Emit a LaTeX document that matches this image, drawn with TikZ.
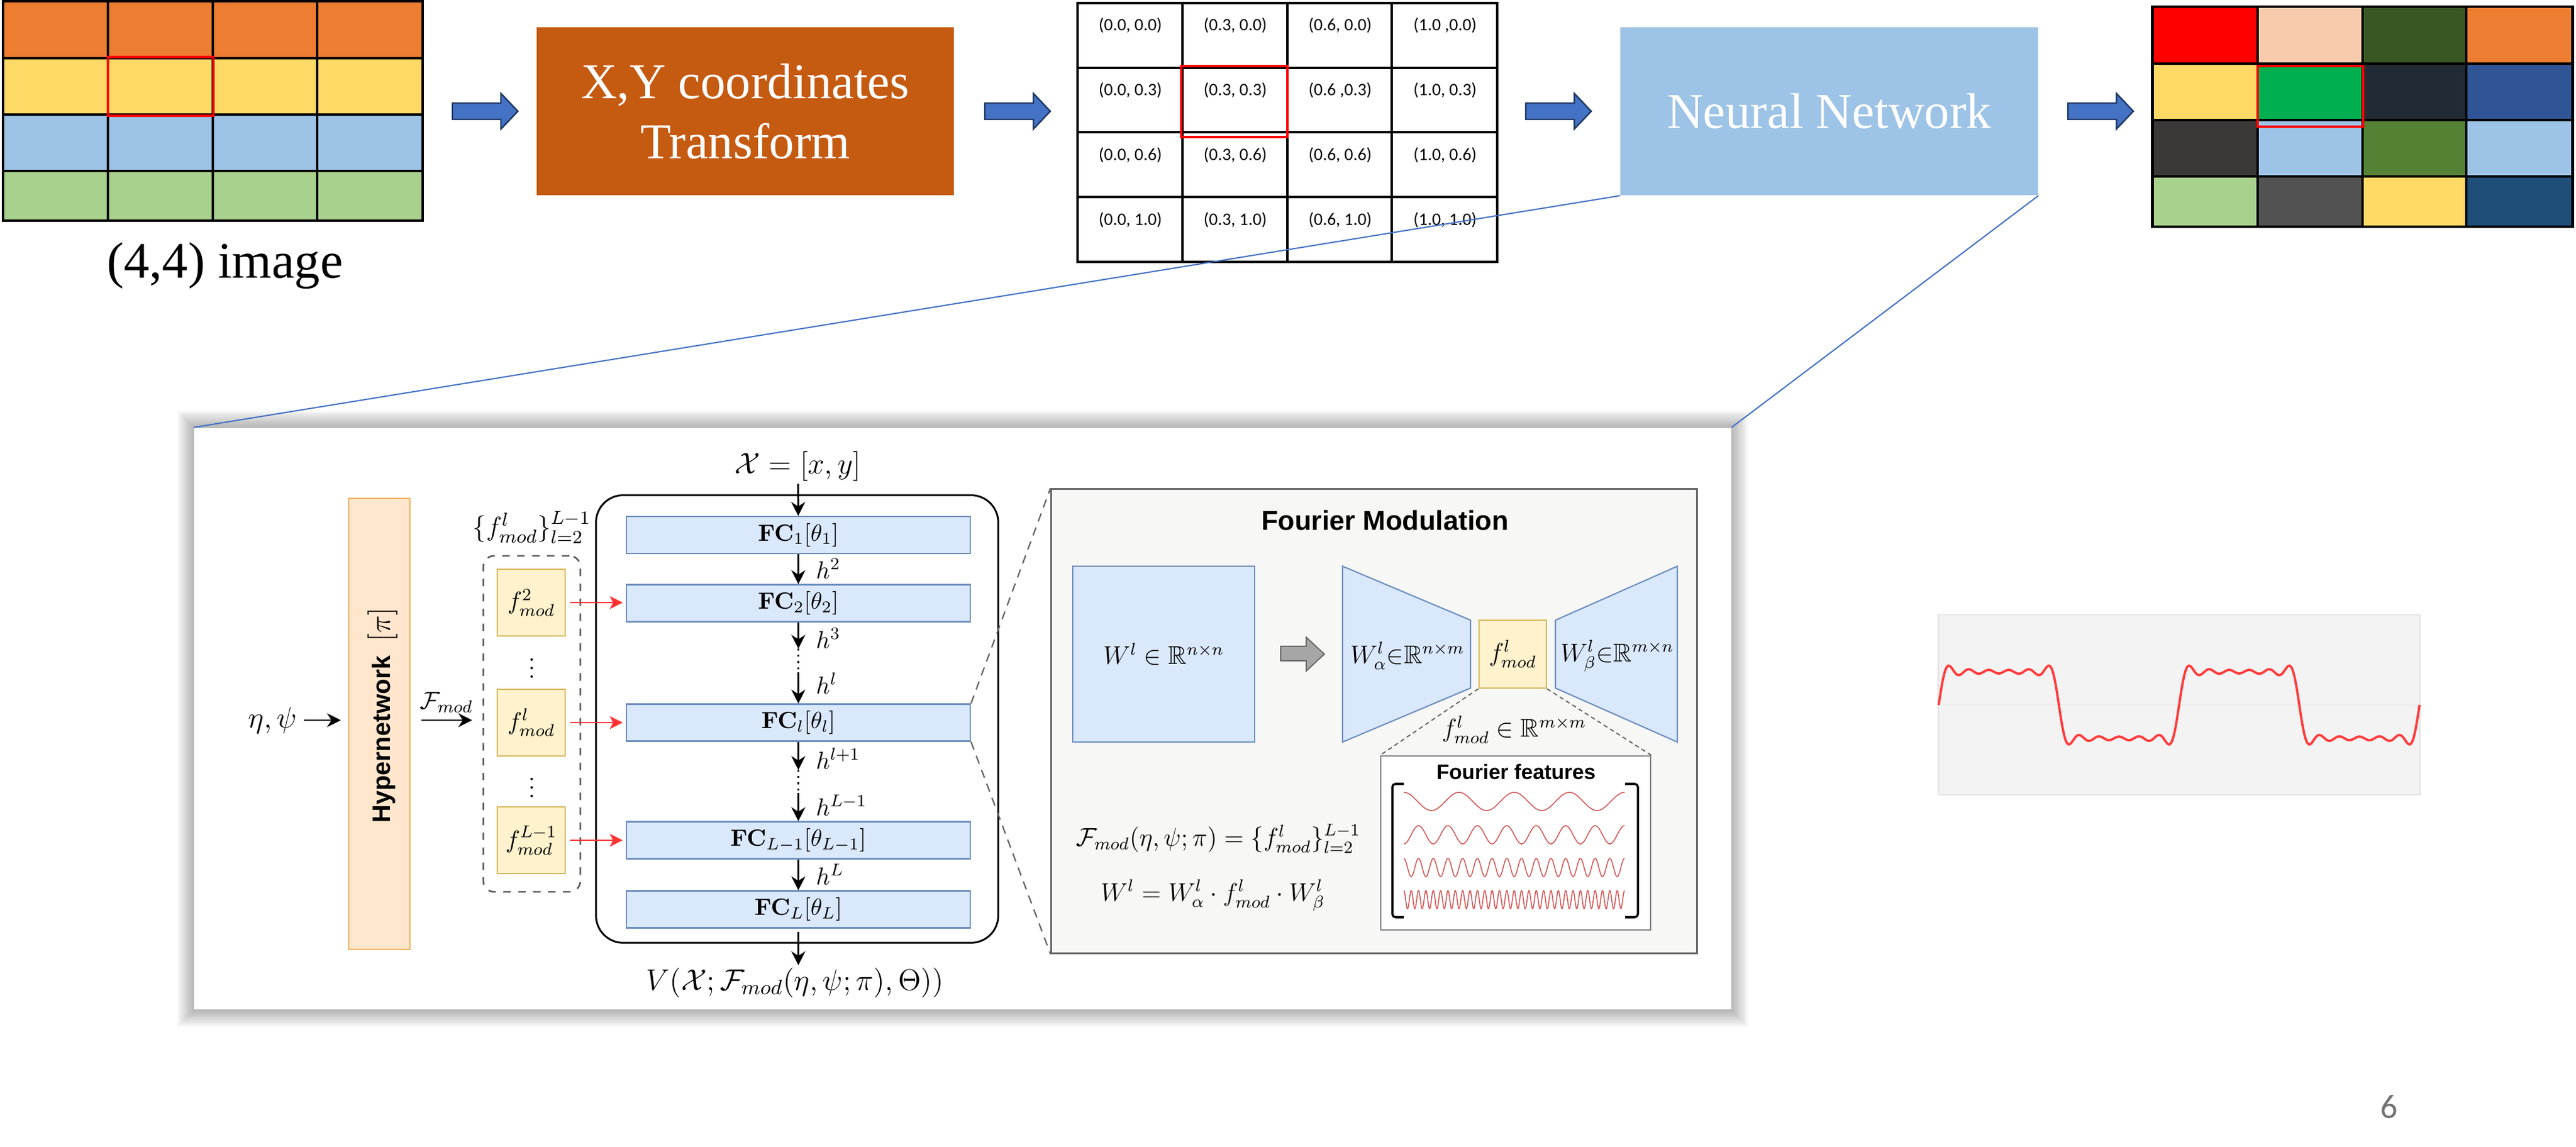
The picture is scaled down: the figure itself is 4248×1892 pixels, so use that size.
\RequirePackage{fix-cm}
\documentclass[tikz,border=0pt]{standalone}
\usepackage[no-math]{fontspec}
\usepackage{amsmath,amssymb}
\usepackage{xcolor}
\usetikzlibrary{calc, arrows.meta, positioning}

\newfontfamily\serifslide{Liberation Serif}
\newfontfamily\sansslide{Liberation Sans}
\newfontfamily\calibrislide{Carlito}
\newcommand\slidesize[1]{\fontsize{#1}{#1}\selectfont}

\definecolor{cellorange}{HTML}{ED7D31}
\definecolor{cellyellow}{HTML}{FFD966}
\definecolor{cellblue}{HTML}{9DC3E6}
\definecolor{cellgreen}{HTML}{A9D18E}
\definecolor{transformbox}{HTML}{C55A11}
\definecolor{netbox}{HTML}{9DC3E6}
\definecolor{arrowfill}{HTML}{4472C4}
\definecolor{arrowline}{HTML}{1F3864}
\definecolor{fcfill}{HTML}{DAE8FC}
\definecolor{fcline}{HTML}{6C8EBF}
\definecolor{modfill}{HTML}{FFF2CC}
\definecolor{modline}{HTML}{D6B656}
\definecolor{hyperfill}{HTML}{FFE6CC}
\definecolor{hyperline}{HTML}{F0B25A}
\definecolor{panelgrey}{HTML}{F7F7F5}
\definecolor{waveback}{HTML}{F3F3F3}
\definecolor{featurered}{HTML}{D45555}
\definecolor{squarered}{HTML}{FF3B3B}
\definecolor{modarrow}{HTML}{FF3333}

\newcommand\stagearrow[1]{\draw[arrowshape] (#1,170) -- ++(80,0) -- ++(0,-16) -- ++(28,29.5) -- ++(-28,29.5) -- ++(0,-16) -- ++(-80,0) -- cycle;}

\begin{document}
\begin{tikzpicture}[x=0.01cm, y=-0.01cm,
    gridline/.style={black, line width=0.9pt},
    gridframe/.style={black, line width=1.2pt},
    pickbox/.style={red, line width=1.3pt},
    coordtext/.style={font=\calibrislide\slidesize{8.2}, inner sep=0pt},
    stagebox/.style={minimum width=6.88cm, minimum height=2.77cm, inner sep=0pt, text=white, align=center, font=\serifslide\fontsize{23.5}{28.2}\selectfont},
    arrowshape/.style={fill=arrowfill, draw=arrowline, line width=0.7pt},
    fcbox/.style={draw=fcline, fill=fcfill, line width=0.6pt, minimum width=5.67cm, minimum height=0.61cm, inner sep=0pt, font=\slidesize{11}},
    fcshape/.style={draw=fcline, fill=fcfill, line width=0.6pt},
    modbox/.style={draw=modline, fill=modfill, line width=0.7pt, minimum width=1.12cm, minimum height=1.1cm, inner sep=0pt, font=\slidesize{11.5}},
    mathlabel/.style={inner sep=1pt, font=\slidesize{14}},
    hlabel/.style={anchor=west, inner sep=0pt, font=\slidesize{11.5}},
    flow/.style={-{Stealth[length=6.5pt, width=6.5pt]}, line width=0.85pt},
    modflow/.style={-{Stealth[length=6pt, width=6pt, inset=1.5pt]}, modarrow, line width=0.8pt},
    zoomline/.style={arrowfill, line width=0.6pt},
    zoomdash/.style={black!60, line width=0.65pt, dash pattern=on 4pt off 3pt},
    featuredash/.style={black!65, line width=0.5pt, dash pattern=on 2pt off 1.5pt}]

    \useasboundingbox (0,0) rectangle (4248,1892);

    \foreach \c/\ya/\yb in {cellorange/2/96, cellyellow/96/189, cellblue/189/282, cellgreen/282/364}
        \fill[\c] (5,\ya) rectangle (697,\yb);
    \foreach \y in {96,189,282} \draw[gridline] (5,\y) -- (697,\y);
    \foreach \x in {178,351,523} \draw[gridline] (\x,2) -- (\x,364);
    \draw[gridframe] (5,2) rectangle (697,364);
    \draw[pickbox] (178,94) rectangle (352,191);
    \node[font=\serifslide\slidesize{24}] (inimg) at (371,438) {(4,4) image};

    \stagearrow{746}
    \node[stagebox, fill=transformbox] (xform) at (1229,183.5) {X,Y coordinates\\Transform};
    \stagearrow{1624}

    \foreach \y in {112,218,325} \draw[gridline] (1777,\y) -- (2469,\y);
    \foreach \x in {1950,2123,2295} \draw[gridline] (\x,5) -- (\x,432);
    \draw[gridframe] (1777,5) rectangle (2469,432);
    \foreach \lab [count=\k from 0] in {{(0.0, 0.0)},{(0.3, 0.0)},{(0.6, 0.0)},{(1.0 ,0.0)},
        {(0.0, 0.3)},{(0.3, 0.3)},{(0.6 ,0.3)},{(1.0, 0.3)},
        {(0.0, 0.6)},{(0.3, 0.6)},{(0.6, 0.6)},{(1.0, 0.6)},
        {(0.0, 1.0)},{(0.3, 1.0)},{(0.6, 1.0)},{(1.0, 1.0)}}
        \node[coordtext] (xy\k) at ({1864+173*mod(\k,4)}, {42+107*int(\k/4)}) {\lab};
    \draw[pickbox] (1948,109) rectangle (2123,226);

    \stagearrow{2516}
    \node[stagebox, fill=netbox] (nnet) at (3016.5,183.5) {Neural Network};
    \stagearrow{3410}

    \def\outx{{3549,3723,3896,4067,4242}}
    \def\outy{{11,105,198,291,374}}
    \foreach \cc [count=\k from 0] in {FF0000,F8CBAD,385723,ED7D31,FFD966,00B050,222A35,2F5597,3B3838,9DC3E6,548235,9DC3E6,A9D18E,525252,FFD966,1F4E79} {
        \pgfmathtruncatemacro\col{mod(\k,4)}
        \pgfmathtruncatemacro\row{int(\k/4)}
        \pgfmathsetmacro\xa{\outx[\col]}
        \pgfmathsetmacro\xb{\outx[\col+1]}
        \pgfmathsetmacro\ya{\outy[\row]}
        \pgfmathsetmacro\yb{\outy[\row+1]}
        \definecolor{cellnow}{HTML}{\cc}
        \fill[cellnow] (\xa,\ya) rectangle (\xb,\yb);
    }
    \foreach \y in {105,198,291} \draw[gridline, line width=1.3pt] (3549,\y) -- (4242,\y);
    \foreach \x in {3723,3896,4067} \draw[gridline, line width=1.1pt] (\x,11) -- (\x,374);
    \draw[gridframe, line width=1.4pt] (3549,11) rectangle (4242,374);
    \draw[pickbox] (3723,109) rectangle (3897,209);

    \foreach \g in {1,...,12}
        \fill[black, opacity=0.028] ({321-2.4*\g},{706-2.4*\g}) rectangle ({2854+2.4*\g},{1665+2.4*\g});
    \node[fill=white, minimum width=25.33cm, minimum height=9.59cm] (panel) at (1587.5,1185.5) {};

    \node[draw=hyperline, fill=hyperfill, line width=0.5pt, minimum width=1.01cm, minimum height=7.44cm] (hyper) at (625.5,1194) {};
    \node[rotate=90, font=\sansslide\bfseries\slidesize{11.8}] (hypertext) at (631,1180) {Hypernetwork\hspace{0.55em}{\slidesize{14}$[\pi]$}};

    \node[mathlabel] (etapsi) at (450,1188) {$\eta,\psi$};
    \draw[flow, shorten <=0.07cm, shorten >=0.12cm] (etapsi.east) -- (etapsi.east -| hyper.west);

    \node[draw=black!65, line width=0.75pt, dash pattern=on 3.5pt off 3.5pt, rounded corners=0.18cm, minimum width=1.6cm, minimum height=5.54cm] (modgroup) at (877,1194) {};
    \draw[flow, shorten <=0.18cm, shorten >=0.17cm] (hyper.east |- etapsi.east) -- (modgroup.west |- etapsi.east)
        node[midway, above, inner sep=3pt, font=\slidesize{11.5}] (fmodlabel) {$\mathcal{F}_{mod}$};
    \node[mathlabel, font=\slidesize{12.5}] (modset) at (877,870) {$\{f^l_{mod}\}^{L-1}_{l=2}$};
    \node[modbox] (mod2) at (876,994) {$f^2_{mod}$};
    \node[modbox] (modl) at (876,1192) {$f^l_{mod}$};
    \node[modbox] (modL) at (876,1386) {$f^{L-1}_{mod}$};
    \node[font=\slidesize{12}] (vdots1) at (877,1092) {$\vdots$};
    \node[font=\slidesize{12}] (vdots2) at (877,1289) {$\vdots$};

    \node[draw, line width=0.85pt, rounded corners=0.45cm, minimum width=6.63cm, minimum height=7.38cm] (mlp) at (1314.5,1186) {};
    \node[fcbox] (fc1) at (1316.5,882.5) {$\mathbf{FC}_1[\theta_1]$};
    \node[fcbox] (fc2) at (1316.5,995) {$\mathbf{FC}_2[\theta_2]$};
    \node[fcbox] (fcl) at (1316.5,1192) {$\mathbf{FC}_l[\theta_l]$};
    \node[fcbox] (fcm) at (1316.5,1386) {$\mathbf{FC}_{L-1}[\theta_{L-1}]$};
    \node[fcbox] (fcL) at (1316.5,1500) {$\mathbf{FC}_L[\theta_L]$};

    \node[mathlabel] (xin) at (1316,769) {$\mathcal{X} = [x, y]$};
    \node[mathlabel] (vout) at (1311,1621) {$V(\mathcal{X};\mathcal{F}_{mod}(\eta,\psi;\pi),\Theta))$};
    \coordinate (gap1a) at (1316.5,1070);
    \coordinate (gap1b) at (1316.5,1109);
    \coordinate (gap2a) at (1316.5,1270);
    \coordinate (gap2b) at (1316.5,1308);

    \draw[flow] (xin) -- (fc1);
    \draw[flow] (fc1) -- (fc2);
    \draw[flow] (fc2) -- (gap1a);
    \draw[dotted, line width=0.9pt] (gap1a) -- (gap1b);
    \draw[flow] (gap1b) -- (fcl);
    \draw[flow] (fcl) -- (gap2a);
    \draw[dotted, line width=0.9pt] (gap2a) -- (gap2b);
    \draw[flow] (gap2b) -- (fcm);
    \draw[flow] (fcm) -- (fcL);
    \draw[flow, shorten <=0.05cm] (fcL.south) -- (fcL.south |- vout.north);

    \node[hlabel] (h2) at (1345,938) {$h^2$};
    \node[hlabel] (h3) at (1345,1053) {$h^3$};
    \node[hlabel] (hl) at (1345,1127) {$h^l$};
    \node[hlabel] (hl1) at (1345,1251) {$h^{l+1}$};
    \node[hlabel] (hLm) at (1345,1328) {$h^{L-1}$};
    \node[hlabel] (hL) at (1345,1442) {$h^L$};

    \draw[modflow, shorten <=0.07cm, shorten >=0.05cm] (mod2) -- (mod2 -| fc2.west);
    \draw[modflow, shorten <=0.07cm, shorten >=0.05cm] (modl) -- (modl -| fcl.west);
    \draw[modflow, shorten <=0.07cm, shorten >=0.05cm] (modL) -- (modL -| fcm.west);

    \node[draw=black!60, fill=panelgrey, line width=0.8pt, minimum width=10.64cm, minimum height=7.65cm] (fourier) at (2266,1189.5) {};
    \draw[zoomdash] (fcl.north east) -- (fourier.north west);
    \draw[zoomdash] (fcl.south east) -- (fourier.south west);
    \node[font=\sansslide\bfseries\slidesize{12.8}] (fmtitle) at (2284,858) {Fourier Modulation};

    \node[draw=fcline, fill=fcfill, line width=0.6pt, minimum width=3cm, minimum height=2.9cm, font=\slidesize{12}] (wfull) at (1919,1079) {$W^l\in\mathbb{R}^{n\times n}$};
    \draw[fill=black!35, draw=black!62, line width=0.5pt] (2112,1066) -- (2154,1066) -- (2154,1051) -- (2184,1079) -- (2154,1107) -- (2154,1090) -- (2112,1090) -- cycle;
    \draw[fcshape] (2214,934) -- (2425,1023) -- (2425,1135) -- (2214,1224) -- cycle;
    \draw[fcshape] (2766,934) -- (2565,1023) -- (2565,1135) -- (2766,1224) -- cycle;
    \node[font=\slidesize{12}] (walpha) at (2321,1082) {$W^l_\alpha{\in}\mathbb{R}^{n\times m}$};
    \node[font=\slidesize{12}] (wbeta) at (2667,1082) {$W^l_\beta{\in}\mathbb{R}^{m\times n}$};
    \node[modbox, minimum width=1.11cm, minimum height=1.12cm, font=\slidesize{12}] (fmod) at (2494.5,1079) {$f^l_{mod}$};
    \node[font=\slidesize{12}] (fdim) at (2497,1204) {$f^l_{mod}\in\mathbb{R}^{m\times m}$};

    \node[draw=black!50, fill=white, line width=0.6pt, minimum width=4.45cm, minimum height=2.87cm] (ffbox) at (2499.5,1390.5) {};
    \draw[featuredash] (fmod.south west) -- (ffbox.north west);
    \draw[featuredash] (fmod.south east) -- (ffbox.north east);
    \node[font=\sansslide\bfseries\slidesize{9.8}] (fftitle) at (2500,1273) {Fourier features};
    \draw[line width=1pt, rounded corners=1.5pt] (2315,1293) -- (2296,1293) -- (2296,1513) -- (2315,1513);
    \draw[line width=1pt, rounded corners=1.5pt] (2680,1293) -- (2701,1293) -- (2701,1513) -- (2680,1513);
    \foreach \yc/\n/\ph in {1322/4/0, 1377/7.5/180, 1431/15/0, 1484/30/0}
        \draw[featurered, line width=0.45pt] plot[domain=0:364, samples=700] ({2315+\x}, {\yc-15*cos(\n*\x/364*360+\ph)});

    \node[font=\slidesize{12}] (fmodeq) at (2009,1383) {$\mathcal{F}_{mod}(\eta,\psi;\pi)=\{f^l_{mod}\}^{L-1}_{l=2}$};
    \node[font=\slidesize{12}] (weq) at (2000,1477) {$W^l=W^l_\alpha\cdot f^l_{mod}\cdot W^l_\beta$};

    \node[draw=black!10, fill=waveback, line width=0.8pt, minimum width=7.93cm, minimum height=2.97cm] (wavebox) at (3593.5,1162.5) {};
    \draw[black!7, line width=0.6pt] (wavebox.west) -- (wavebox.east);
    \draw[squarered, line width=1.1pt] plot[domain=0:793, samples=500]
        ({3197+\x}, {1163-70*(sin(0.908*\x)+sin(2.724*\x)/3+sin(4.54*\x)/5+sin(6.356*\x)/7+sin(8.172*\x)/9+sin(9.988*\x)/11)});

    \node[font=\calibrislide\slidesize{16}, text=black!55] (pagenum) at (3940,1826) {6};

    \draw[zoomline] (nnet.south west) -- (panel.north west);
    \draw[zoomline] (nnet.south east) -- (panel.north east);
\end{tikzpicture}
\end{document}
